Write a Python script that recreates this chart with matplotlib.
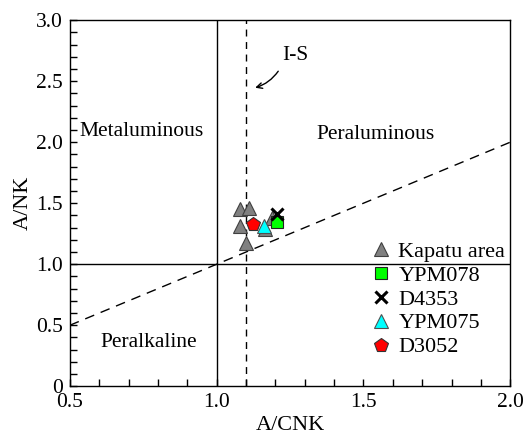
import matplotlib.pyplot as plt
from matplotlib.ticker import MultipleLocator

plt.rcParams['font.family'] = ['Liberation Serif', 'DejaVu Serif']

# sample data (A/CNK, A/NK)
kapatu_x = [1.08, 1.11, 1.08, 1.10, 1.165, 1.19]
kapatu_y = [1.45, 1.46, 1.31, 1.17, 1.29, 1.38]
ypm078_x = [1.205]
ypm078_y = [1.35]
d4353_x = [1.205]
d4353_y = [1.41]
ypm075_x = [1.16]
ypm075_y = [1.31]
d3052_x = [1.125]
d3052_y = [1.33]

fig, ax = plt.subplots(figsize=(5.25, 4.37), dpi=100)
fig.subplots_adjust(left=0.133, right=0.972, top=0.954, bottom=0.116)

# field boundaries
ax.axvline(1.0, color='black', lw=1.0)
ax.axhline(1.0, color='black', lw=1.0)
ax.axvline(1.1, color='black', lw=1.0, ls=(0, (5, 4)))
ax.plot([0.5, 2.0], [0.5, 2.0], color='black', lw=1.0, ls=(0, (7, 5)))

ms = 10
ax.plot(kapatu_x, kapatu_y, '^', color='#808080', mec='#404040', mew=0.8, ms=ms, ls='none', label='Kapatu area')
ax.plot(ypm078_x, ypm078_y, 's', color='#00ff00', mec='#222222', mew=0.8, ms=ms - 1, ls='none', label='YPM078')
ax.plot(d4353_x, d4353_y, 'x', color='black', mew=2.2, ms=ms - 1, ls='none', label='D4353')
ax.plot(ypm075_x, ypm075_y, '^', color='#00ffff', mec='#505050', mew=0.8, ms=ms, ls='none', label='YPM075')
ax.plot(d3052_x, d3052_y, 'p', color='#ff0000', mec='#333333', mew=0.8, ms=ms, ls='none', label='D3052')

fs = 15.5
ax.text(0.744, 2.09, 'Metaluminous', ha='center', va='center', fontsize=fs)
ax.text(1.54, 2.06, 'Peraluminous', ha='center', va='center', fontsize=fs)
ax.text(0.77, 0.36, 'Peralkaline', ha='center', va='center', fontsize=fs)
ax.text(1.267, 2.71, 'I-S', ha='center', va='center', fontsize=fs)
ax.annotate('', xy=(1.122, 2.44), xytext=(1.215, 2.60),
            arrowprops=dict(arrowstyle='->', color='black', lw=1.0,
                            connectionstyle='arc3,rad=-0.2'))

ax.set_xlim(0.5, 2.0)
ax.set_ylim(0, 3.0)
ax.xaxis.set_minor_locator(MultipleLocator(0.1))
ax.yaxis.set_minor_locator(MultipleLocator(0.1))
ax.set_xticks([0.5, 1.0, 1.5, 2.0])
ax.set_xticklabels(['0.5', '1.0', '1.5', '2.0'])
ax.set_yticks([0, 0.5, 1.0, 1.5, 2.0, 2.5, 3.0])
ax.set_yticklabels(['0', '0.5', '1.0', '1.5', '2.0', '2.5', '3.0'])
ax.tick_params(which='both', direction='in', labelsize=15.5, pad=5, width=1.0, length=5)
ax.tick_params(axis='x', pad=5)
ax.set_xlabel('A/CNK', fontsize=16, labelpad=3)
ax.set_ylabel('A/NK', fontsize=16, labelpad=2)
for s in ax.spines.values():
    s.set_linewidth(1.0)

ax.legend(loc='lower left', bbox_to_anchor=(0.655, 0.055), frameon=False, fontsize=16,
          handletextpad=0.2, labelspacing=0.15, handlelength=1.2, borderaxespad=0)

fig.savefig('out.png', dpi=100)
